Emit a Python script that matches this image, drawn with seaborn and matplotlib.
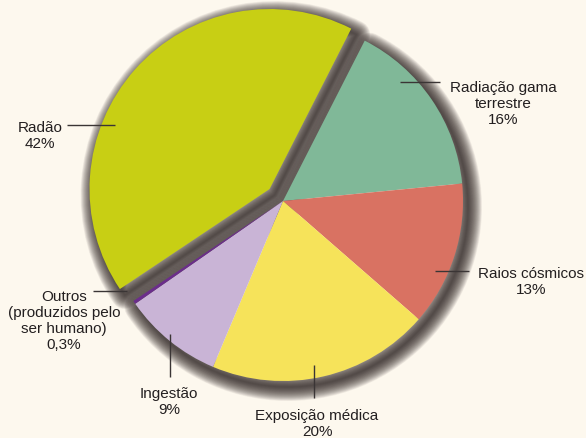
import numpy as np
import matplotlib
matplotlib.use("Agg")
import matplotlib.pyplot as plt
from matplotlib.patches import Wedge
import seaborn as sns

# Sources of radiation exposure and their share of the dose
sources = ["Radiação gama\nterrestre", "Raios cósmicos", "Exposição médica",
           "Ingestão", "Outros\n(produzidos pelo\nser humano)", "Radão"]
shares = [16, 13, 20, 9, 0.3, 42]
share_text = ["16%", "13%", "20%", "9%", "0,3%", "42%"]
colors = ["#80b898", "#d97262", "#f6e35a", "#c9b4d6", "#6b2d8b", "#c8cf14"]
explode = [0, 0, 0, 0, 0, 0.1]

sns.set_theme(style="white")
plt.rcParams["font.family"] = ["Liberation Sans", "DejaVu Sans"]

W, H = 586, 439
BG = "#fdf8ee"
fig = plt.figure(figsize=(W / 100, H / 100), dpi=100)
fig.patch.set_facecolor(BG)
ax = fig.add_axes([0, 0, 1, 1])
ax.set_facecolor(BG)


def Y(y_img):
    """Convert a top-down pixel row into the axis' bottom-up y value."""
    return H - y_img


cx, cy, R = 283, Y(202), 180
# pie offsets are in data units, so scale the explode fractions by the radius
wedges, _ = ax.pie(shares, colors=colors, startangle=63, counterclock=False,
                   explode=[e * R for e in explode], center=(cx, cy), radius=R,
                   wedgeprops=dict(linewidth=0, zorder=2))

# Soft drop shadow: one outline for the main body, one for the pulled-out slice,
# built from many faint round-joined strokes so the edge fades gradually
body = [w for w in wedges if np.allclose(w.center, (cx, cy))]
pulled = [w for w in wedges if not np.allclose(w.center, (cx, cy))]
shapes = [((cx, cy), R, min(w.theta1 for w in body), max(w.theta2 for w in body))]
shapes += [(tuple(w.center), w.r, w.theta1, w.theta2) for w in pulled]

shift = (5, -6)
px_to_pt = 72 / fig.dpi
for grow in np.arange(14, 0, -0.5):
    for (wx, wy), r, t1, t2 in shapes:
        ax.add_patch(Wedge((wx + shift[0], wy + shift[1]), r, t1, t2,
                           facecolor="none", edgecolor="#2a2020",
                           linewidth=2 * grow * px_to_pt, joinstyle="round",
                           alpha=0.05, zorder=1))

ax.set_xlim(0, W)
ax.set_ylim(0, H)

# Labels with leader lines
label_pos = [(503, 104), (531, 282), (317, 424), (169, 402), (64, 321), (40, 136)]
leaders = [((400, 83), (440, 83)), ((435, 272), (469, 272)),
           ((314, 366), (314, 399)), ((170, 335), (170, 378)),
           ((93, 292), (127, 292)), ((67, 126), (115, 126))]

for name, pct, (tx, ty), ((x0, y0), (x1, y1)) in zip(sources, share_text, label_pos, leaders):
    ax.text(tx, Y(ty), f"{name}\n{pct}", ha="center", va="center",
            fontsize=11, color="#231f20", linespacing=1.2, zorder=5)
    ax.plot([x0, x1], [Y(y0), Y(y1)], color="#3a3535", lw=1, zorder=4,
            solid_capstyle="butt")

ax.set_xticks([])
ax.set_yticks([])
for spine in ax.spines.values():
    spine.set_visible(False)

fig.savefig("out.png", dpi=100, facecolor=BG)
